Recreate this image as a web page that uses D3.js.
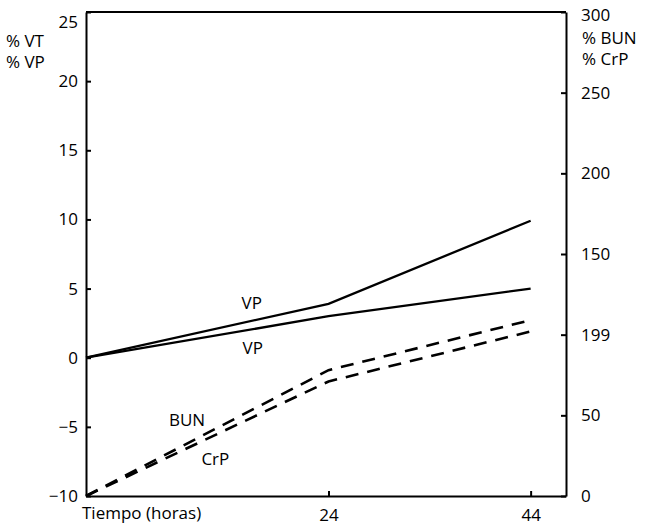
<!DOCTYPE html>
<html>
<head>
<meta charset="utf-8">
<script src="https://cdn.jsdelivr.net/npm/d3@7"></script>
<style>
  body { margin: 0; background: #fff; }
  svg text { font-family: "Open Sans", Lato, sans-serif; fill: #000; }
  .axis path, .axis line { stroke: #000; stroke-width: 2; }
</style>
</head>
<body>
<svg id="view"></svg>
<script>
// hours
const hours = [0, 24, 44];
// left scale, percent
const vtValues = [0, 3.9, 9.9];
const vpValues = [0, 3.0, 5.0];
// right scale, percent
const bunValues = [0, 78, 109];
const crpValues = [0, 71, 102];

const leftTicks = [-10, -5, 0, 5, 10, 15, 20, 25];
const rightTicks = [0, 50, 100, 150, 200, 250, 300];
const rightTickLabels = ['0', '50', '199', '150', '200', '250', '300'];
const xTicks = [24, 44];

// annotation text placed in data units (hour, left-scale value)
const notes = [
  {text: 'VP', h: 16.4, v: 4.0},
  {text: 'VP', h: 16.5, v: 0.75},
  {text: 'BUN', h: 10.0, v: -4.45},
  {text: 'CrP', h: 12.8, v: -7.3}
];

const width = 650, height = 525;
const svg = d3.select('#view')
    .attr('width', width)
    .attr('height', height);

const x = d3.scaleLinear().domain([0, 47.5]).range([86, 566]);
const yL = d3.scaleLinear().domain([-10, 25]).range([496, 12]);
const yR = d3.scaleLinear().domain([0, 300]).range([496, 12]);

const fontSize = 17;

// left axis
const gl = svg.append('g')
    .attr('class', 'axis')
    .attr('transform', 'translate(' + x(0) + ',0)')
    .call(d3.axisLeft(yL).tickValues(leftTicks).tickSizeInner(-5).tickSizeOuter(0).tickPadding(8)
        .tickFormat(d => d < 0 ? '\u2212' + Math.abs(d) : d));
gl.selectAll('text').style('font-size', fontSize + 'px');
gl.selectAll('.tick').filter(d => d === 25).select('text').attr('dy', '0.9em');

// right axis
const gr = svg.append('g')
    .attr('class', 'axis')
    .attr('transform', 'translate(' + x.range()[1] + ',0)')
    .call(d3.axisRight(yR).tickValues(rightTicks).tickSizeInner(-5).tickSizeOuter(0).tickPadding(15)
        .tickFormat((d, i) => rightTickLabels[i]));
gr.selectAll('text').style('font-size', fontSize + 'px');
gr.selectAll('.tick').filter(d => d === 300).select('text').attr('dy', '0.5em');

// bottom axis
const gb = svg.append('g')
    .attr('class', 'axis')
    .attr('transform', 'translate(0,' + yL(-10) + ')')
    .call(d3.axisBottom(x).tickValues(xTicks).tickSizeInner(-5).tickSizeOuter(0).tickPadding(13));
gb.selectAll('text').style('font-size', fontSize + 'px');

// top border
svg.append('line')
    .attr('x1', x.range()[0]).attr('x2', x.range()[1])
    .attr('y1', yL(25)).attr('y2', yL(25))
    .attr('stroke', '#000').attr('stroke-width', 2);

// axis titles
svg.append('text')
    .attr('x', 82).attr('y', 519)
    .style('font-size', fontSize + 'px')
    .text('Tiempo (horas)');

svg.append('text').attr('x', 6).attr('y', 47).style('font-size', fontSize + 'px').text('% VT');
svg.append('text').attr('x', 6).attr('y', 68).style('font-size', fontSize + 'px').text('% VP');
svg.append('text').attr('x', 582).attr('y', 44).style('font-size', fontSize + 'px').text('% BUN');
svg.append('text').attr('x', 582).attr('y', 65).style('font-size', fontSize + 'px').text('% CrP');

const plotLine = function(values, scale, dashed){
    const pts = hours.map((h, i) => ({x: h, y: values[i]}));
    const line = d3.line().x(d => x(d.x)).y(d => scale(d.y));
    svg.append('path')
        .datum(pts)
        .attr('fill', 'none')
        .attr('stroke', '#000')
        .attr('stroke-width', dashed ? 2.6 : 2.3)
        .attr('stroke-dasharray', dashed ? '13,9' : null)
        .attr('d', line);
};

plotLine(vtValues, yL, false);
plotLine(vpValues, yL, false);
plotLine(bunValues, yR, true);
plotLine(crpValues, yR, true);

svg.selectAll('.note')
    .data(notes)
    .enter()
    .append('text')
    .attr('class', 'note')
    .attr('x', d => x(d.h))
    .attr('y', d => yL(d.v))
    .attr('text-anchor', 'middle')
    .attr('dominant-baseline', 'central')
    .style('font-size', fontSize + 'px')
    .text(d => d.text);
</script>
</body>
</html>
